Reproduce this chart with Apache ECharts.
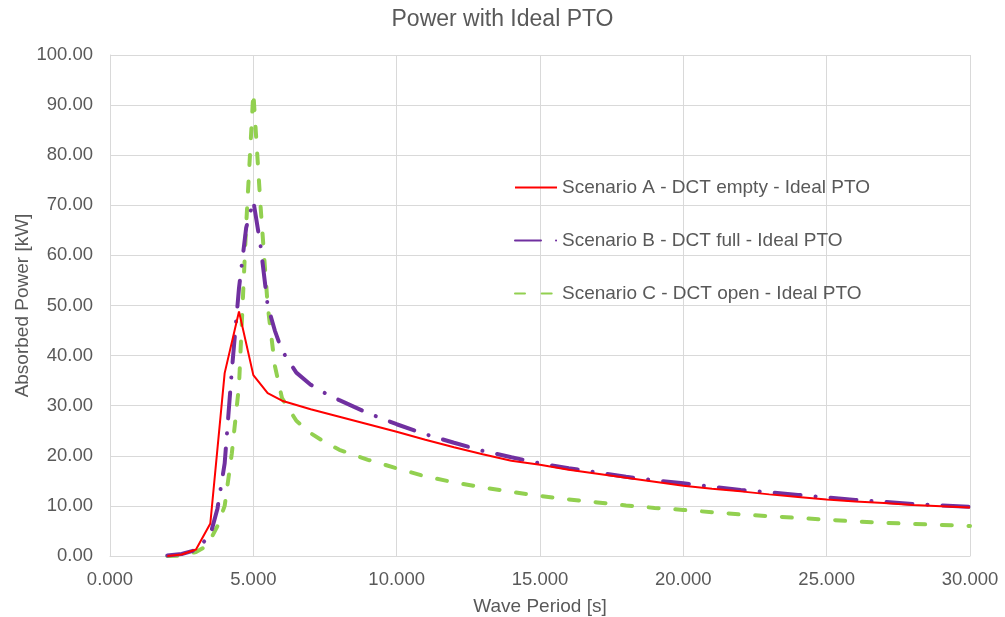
<!DOCTYPE html>
<html>
<head>
<meta charset="utf-8">
<script src="https://cdn.jsdelivr.net/npm/echarts@6/dist/echarts.min.js"></script>
<style>
html,body{margin:0;padding:0;background:#fff;}
#chart{width:1005px;height:617px;}
</style>
</head>
<body>
<div id="chart"></div>
<script>
// Scenario A - DCT empty - Ideal PTO
const periodA = [2, 2.5, 3, 3.5, 4, 4.5, 5, 5.5, 6, 7, 8, 9, 10, 11, 12, 13, 14, 15, 16, 17, 18, 19, 20, 21, 22, 23, 24, 25, 26, 27, 28, 29, 30];
const powerA  = [0, 0.3, 1.3, 6.5, 36.5, 48.8, 36.1, 32.5, 31.0, 29.3, 27.8, 26.3, 24.8, 23.2, 21.7, 20.3, 19.0, 18.2, 17.2, 16.4, 15.6, 14.8, 14.0, 13.4, 12.9, 12.3, 11.8, 11.3, 10.9, 10.6, 10.2, 9.95, 9.7];
// Scenario B - DCT full - Ideal PTO
const periodB = [2, 2.5, 3, 3.5, 3.75, 4, 4.25, 4.5, 4.75, 5, 5.25, 5.5, 5.75, 6, 6.5, 7, 7.5, 8, 9, 10, 11, 12, 13, 14, 15, 16, 17, 18, 19, 20, 22, 24, 26, 28, 30];
const powerB  = [0.1, 0.4, 1.2, 4.2, 9.5, 18.5, 37, 53.5, 65.5, 70.9, 62, 50, 45, 41, 36.6, 34.2, 32.5, 31.1, 28.5, 26.3, 24.3, 22.6, 21.0, 19.7, 18.5, 17.5, 16.7, 15.8, 15.1, 14.5, 13.2, 12.2, 11.2, 10.4, 9.8];
// Scenario C - DCT open - Ideal PTO
const periodC = [2, 2.5, 3, 3.25, 3.5, 3.75, 4, 4.25, 4.5, 4.75, 5, 5.25, 5.5, 5.75, 6, 6.5, 7, 7.5, 8, 9, 10, 11, 12, 13, 14, 15, 16, 17, 18, 19, 20, 22, 24, 26, 28, 30];
const powerC  = [0, 0.1, 0.8, 1.6, 3.2, 6.0, 10.0, 20.5, 34, 66, 92.5, 70, 50, 38, 31.5, 27, 24.5, 22.7, 21.2, 19.2, 17.5, 15.9, 14.7, 13.7, 12.8, 12.0, 11.3, 10.7, 10.1, 9.6, 9.2, 8.3, 7.6, 6.9, 6.4, 6.0];

const seriesNames = ['Scenario A - DCT empty - Ideal PTO', 'Scenario B - DCT full - Ideal PTO', 'Scenario C - DCT open - Ideal PTO'];

function pairs(xs, ys){ return xs.map((x,i)=>[x, ys[i]]); }

const FONT = '"Liberation Sans", Arial, sans-serif';
const TXT = '#595959';
const GRID = '#d9d9d9';

const chart = echarts.init(document.getElementById('chart'), null, {renderer:'canvas'});
chart.setOption({
  animation: false,
  backgroundColor: '#ffffff',
  textStyle: {fontFamily: FONT},
  title: {
    text: 'Power with Ideal PTO',
    left: 'center',
    top: 3,
    textStyle: {fontFamily: FONT, fontSize: 23, fontWeight: 'normal', color: TXT}
  },
  legend: {
    orient: 'vertical',
    left: 509,
    top: 172,
    itemWidth: 42,
    itemHeight: 14,
    itemGap: 32,
    padding: 5,
    itemStyle: {opacity: 0},
    textStyle: {fontFamily: FONT, fontSize: 19, color: TXT, lineHeight: 21},
    data: seriesNames
  },
  grid: {left: 110, right: 35, top: 55, bottom: 61, containLabel: false, outerBoundsMode: 'none'},
  xAxis: {
    type: 'value',
    min: 0, max: 30, interval: 5,
    name: 'Wave Period [s]',
    nameLocation: 'middle',
    nameGap: 41,
    nameMoveOverlap: false,
    nameTextStyle: {fontFamily: FONT, fontSize: 19, color: TXT},
    axisLine: {show: true, lineStyle: {color: GRID, width: 1}},
    axisTick: {show: false},
    axisLabel: {fontFamily: FONT, fontSize: 18.5, color: TXT, margin: 14, formatter: v => v.toFixed(3)},
    splitLine: {show: true, lineStyle: {color: GRID, width: 1}}
  },
  yAxis: {
    type: 'value',
    min: 0, max: 100, interval: 10,
    name: 'Absorbed Power [kW]',
    nameLocation: 'middle',
    nameGap: 78,
    nameRotate: 90,
    nameMoveOverlap: false,
    nameTextStyle: {fontFamily: FONT, fontSize: 19, color: TXT},
    axisLine: {show: true, lineStyle: {color: GRID, width: 1}},
    axisTick: {show: false},
    axisLabel: {fontFamily: FONT, fontSize: 18.5, color: TXT, margin: 17, formatter: v => v.toFixed(2)},
    splitLine: {show: true, lineStyle: {color: GRID, width: 1}}
  },
  series: [
    {
      name: seriesNames[0], type: 'line', data: pairs(periodA, powerA),
      showSymbol: false, symbol: 'none', z: 3,
      lineStyle: {color: '#FF0000', width: 2},
      itemStyle: {color: '#FF0000'}
    },
    {
      name: seriesNames[1], type: 'line', data: pairs(periodB, powerB),
      showSymbol: false, symbol: 'none', z: 2,
      lineStyle: {color: '#7030A0', width: 4, type: [26, 15, 0.1, 15], cap: 'round'},
      itemStyle: {color: '#7030A0'}
    },
    {
      name: seriesNames[2], type: 'line', data: pairs(periodC, powerC),
      showSymbol: false, symbol: 'none', z: 1,
      lineStyle: {color: '#92D050', width: 4, type: [10, 16.7], cap: 'round'},
      itemStyle: {color: '#92D050'}
    }
  ]
});
</script>
</body>
</html>
